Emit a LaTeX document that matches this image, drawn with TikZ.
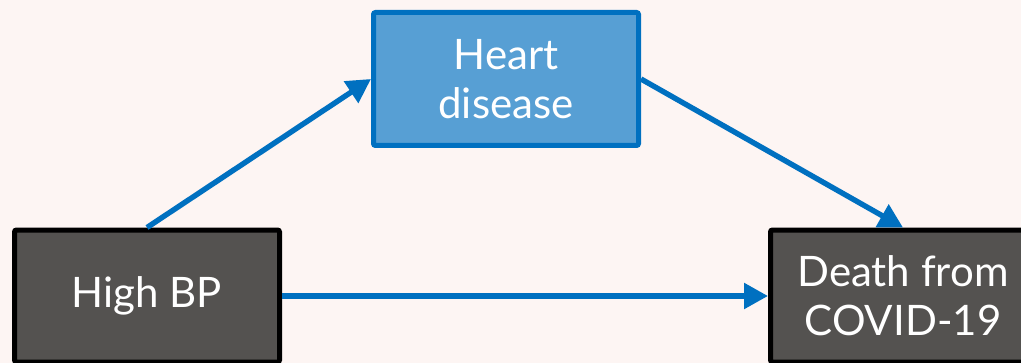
\documentclass[tikz,border=0pt]{standalone}
\usepackage{fontspec}
\setmainfont{Lato}
\usetikzlibrary{arrows.meta}
\definecolor{bgpink}{HTML}{FDF5F3}
\definecolor{linkblue}{HTML}{0070C0}
\definecolor{boxblue}{HTML}{579FD4}
\definecolor{boxgray}{HTML}{545250}

\begin{document}
\begin{tikzpicture}[
  x=0.5pt, y=-0.5pt,
  every node/.style={rounded corners=1pt, align=center, text=white, font=\fontsize{21}{24.5}\selectfont, line width=2.5pt, inner sep=0pt},
  mediator/.style={draw=linkblue, fill=boxblue, minimum width=132.5pt, minimum height=66.5pt},
  factor/.style={draw=black, fill=boxgray, minimum width=132.5pt, minimum height=66pt},
  link/.style={draw=linkblue, line width=2.7pt, -{Triangle[length=12pt,width=12.5pt]}}
]
\useasboundingbox (0,0) rectangle (1021,363);
\clip (0,0) rectangle (1021,363);
\fill[bgpink] (0,0) rectangle (1021,363);

\node[mediator] (heart) at (506,79)  {Heart\\disease};
\node[factor]   (bp)    at (147,296) {High BP};
\node[factor]   (death) at (903,296) {Death from\\COVID-19};

\draw[link] (bp.north) -- (heart.west);
\draw[link] (heart.east) -- (death.north);
\draw[link] (bp.east) -- (death.west);
\end{tikzpicture}
\end{document}
